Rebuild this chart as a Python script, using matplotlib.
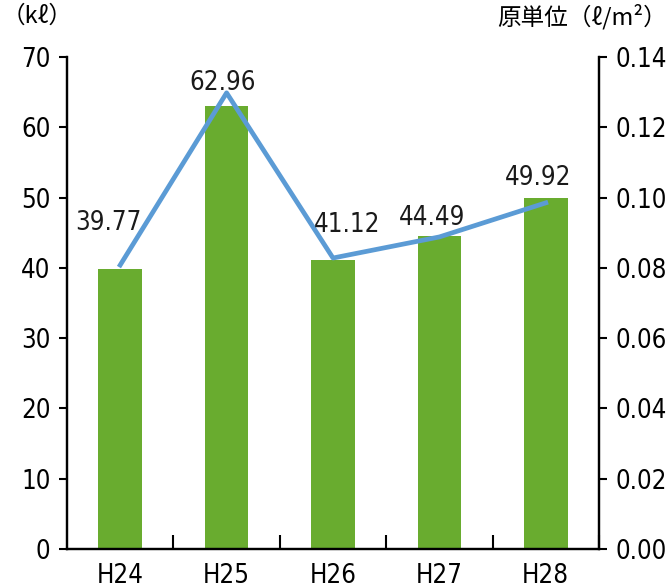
import matplotlib
matplotlib.use("Agg")
import matplotlib.pyplot as plt
from matplotlib import font_manager
from matplotlib.ticker import FixedLocator
import numpy as np

categories = ["H24", "H25", "H26", "H27", "H28"]
volume_kl = [39.77, 62.96, 41.12, 44.49, 49.92]
unit_rate = [0.0808, 0.1298, 0.0828, 0.0888, 0.0985]
left_ticks = [0, 10, 20, 30, 40, 50, 60, 70]
right_ticks = [0.00, 0.02, 0.04, 0.06, 0.08, 0.10, 0.12, 0.14]

# pick a narrow font if one is installed
narrow = None
for f in font_manager.fontManager.ttflist:
    fn = f.fname.lower()
    if ('condensed' in fn or 'narrow' in fn) and 'bold' not in fn and 'oblique' not in fn and 'italic' not in fn:
        narrow = f
        break
if narrow is not None:
    font_manager.fontManager.addfont(narrow.fname)
    num_family = [narrow.name, 'Noto Sans CJK JP', 'DejaVu Sans']
    num_stretch = narrow.stretch
else:
    num_family = ['Noto Sans CJK JP', 'DejaVu Sans']
    num_stretch = 'normal'

plt.rcParams['font.family'] = num_family
plt.rcParams['font.stretch'] = num_stretch

GREEN = "#69ac2f"
BLUE = "#5b9bd5"
FS = 18.5

fig = plt.figure(figsize=(6.7, 5.88), dpi=100)
ax = fig.add_axes([67 / 670, 1 - 549 / 588, 532 / 670, 492 / 588])
ax2 = ax.twinx()

x = np.arange(len(categories))
ax.bar(x, volume_kl, width=0.41, color=GREEN, zorder=2)
ax.set_xlim(-0.5, len(categories) - 0.5)
ax.set_ylim(0, 70)
ax.set_yticks(left_ticks)
ax.set_yticklabels([str(t) for t in left_ticks])

ax2.plot(x, unit_rate, color=BLUE, lw=3.4, zorder=3)
ax2.set_ylim(0, 0.14)
ax2.set_yticks(right_ticks)
ax2.set_yticklabels([f"{t:.2f}" for t in right_ticks])

# data labels (pixel offsets from bar top centre)
offsets = [(-12, 46), (-4, 23), (14, 35), (-7, 18), (-8, 20)]
for i, v in enumerate(volume_kl):
    dx, dy = offsets[i]
    ax2.annotate(f"{v:.2f}", (i, v / 500.0), xytext=(dx, dy), textcoords="offset pixels",
                 ha="center", va="center", fontsize=FS, color="#1a1a1a", zorder=5)

ax.set_xticks(x)
ax.set_xticklabels(categories)
ax.xaxis.set_minor_locator(FixedLocator([0.5, 1.5, 2.5, 3.5, 4.5]))
ax.tick_params(axis='x', which='major', length=0, pad=10, labelsize=FS)
ax.tick_params(axis='x', which='minor', direction='in', length=10, width=1.5, color='black')
ax.tick_params(axis='y', which='major', direction='out', length=6, width=1.5, labelsize=FS, pad=6)
ax2.tick_params(axis='y', which='major', direction='out', length=6, width=1.5, labelsize=FS, pad=6)

for a in (ax, ax2):
    a.spines['top'].set_visible(False)
    for s in ('left', 'right', 'bottom'):
        a.spines[s].set_linewidth(1.6)
        a.spines[s].set_color('black')

fig.text(0.003, 0.972, "（kℓ）", ha="left", va="center", fontsize=17,
         family=['Noto Sans CJK JP', 'DejaVu Sans'], stretch='normal')
fig.text(0.995, 0.972, "原単位（ℓ/m²）", ha="right", va="center", fontsize=17,
         family=['Noto Sans CJK JP', 'DejaVu Sans'], stretch='normal')

fig.savefig("out.png", dpi=100)
